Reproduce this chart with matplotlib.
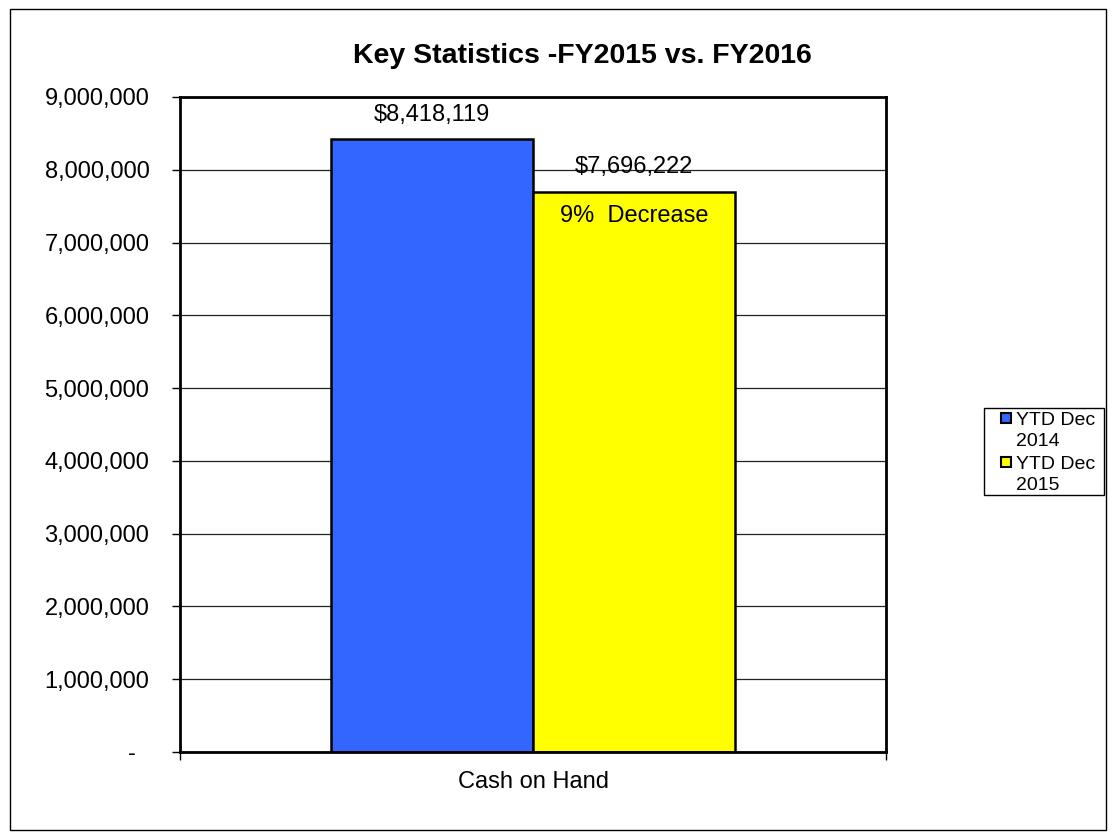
import matplotlib
matplotlib.use("Agg")
import matplotlib.pyplot as plt
from matplotlib.patches import Rectangle
from matplotlib.ticker import FuncFormatter

plt.rcParams["font.family"] = ["Liberation Sans", "DejaVu Sans"]

CATEGORY = "Cash on Hand"
SERIES = ["YTD Dec\n2014", "YTD Dec\n2015"]
VALUES = [8418119, 7696222]
COLORS = ["#3366FF", "#FFFF00"]
NOTE = "9%  Decrease"
TITLE = "Key Statistics -FY2015 vs. FY2016"

W, H = 1115, 839

fig = plt.figure(figsize=(W / 100, H / 100), dpi=100)
ax = fig.add_axes([180 / W, 1 - 752 / H, 706 / W, 655 / H])

# outer chart border
fig.patches.append(Rectangle((10 / W, 9 / H), 1096 / W, 821 / H,
                             transform=fig.transFigure, fill=False,
                             edgecolor="black", linewidth=1))

width = 0.286
offsets = [-width / 2, width / 2]
for off, v, c, lab in zip(offsets, VALUES, COLORS, SERIES):
    ax.bar(off, v, width=width, color=c, edgecolor="black",
           linewidth=1.8, label=lab, zorder=3)

# value labels above bars, note inside the second bar
for off, v in zip(offsets, VALUES):
    ax.annotate(f"${v:,.0f}", (off, v), xytext=(0, 13.5), textcoords="offset points",
                ha="center", va="baseline", fontsize=17, zorder=4)
ax.annotate(NOTE, (offsets[1], VALUES[1]), xytext=(0, -22), textcoords="offset points",
            ha="center", va="baseline", fontsize=17, zorder=4)

ax.set_xlim(-0.5, 0.5)
ax.set_ylim(0, 9000000)
ax.set_yticks(range(0, 9000001, 1000000))
ax.yaxis.set_major_formatter(FuncFormatter(lambda x, p: "-  " if x == 0 else f"{x:,.0f}"))
ax.tick_params(axis="y", labelsize=17, length=6, width=1, pad=16)
ax.yaxis.grid(True, color="#222222", linewidth=0.9, zorder=0)

ax.set_xticks([0])
ax.set_xticklabels([CATEGORY])
ax.set_xticks([-0.5, 0.5], minor=True)
ax.tick_params(axis="x", which="major", length=0, labelsize=17, pad=13.5)
ax.tick_params(axis="x", which="minor", length=6, width=1)

for s in ax.spines.values():
    s.set_linewidth(2)
    s.set_zorder(5)

fig.text(582 / W, 1 - 63 / H, TITLE, ha="center", va="baseline",
         fontsize=20.5, fontweight="bold")

# legend box drawn like the spreadsheet one: marker next to first line of label
fig.patches.append(Rectangle((984 / W, 1 - 495 / H), 120 / W, 87 / H,
                             transform=fig.transFigure, fill=False,
                             edgecolor="black", linewidth=1))
for i, (lab, c) in enumerate(zip(SERIES, COLORS)):
    y_top = 413 + i * 44
    fig.patches.append(Rectangle((1001 / W, 1 - (y_top + 10) / H), 10 / W, 10 / H,
                                 transform=fig.transFigure, facecolor=c,
                                 edgecolor="black", linewidth=1.5))
    fig.text(1016 / W, 1 - (y_top - 1) / H, lab, ha="left", va="top",
             fontsize=14, linespacing=1.3)

fig.savefig("out.png", dpi=100)
